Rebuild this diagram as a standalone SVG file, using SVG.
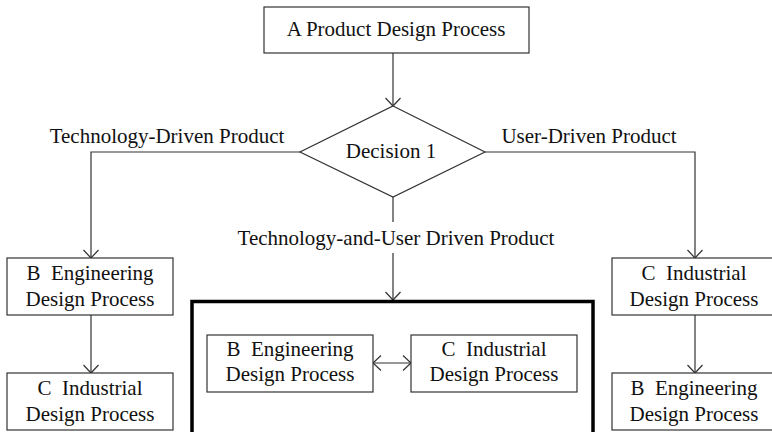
<svg xmlns="http://www.w3.org/2000/svg" width="772" height="432" viewBox="0 0 772 432">
<style>
text{font-family:"Liberation Serif","Times New Roman",serif;font-size:21px;fill:#111;text-anchor:middle}
.box{fill:#fff;stroke:#333;stroke-width:1.2}
.line{fill:none;stroke:#333;stroke-width:1.2}
</style>
<defs>
<marker id="arr" viewBox="-10 -10 20 20" markerWidth="20" markerHeight="20" refX="0" refY="0" orient="auto-start-reverse" markerUnits="userSpaceOnUse">
<path d="M-8,-7.5 L0,0 L-8,7.5" fill="none" stroke="#333" stroke-width="1.2"/>
</marker>
</defs>
<rect width="772" height="432" fill="#fff"/>
<g id="connectors">
<path class="line" d="M393,53 V106" marker-end="url(#arr)"/>
<path class="line" d="M300,152 H91 V258" marker-end="url(#arr)"/>
<path class="line" d="M91,315 V373" marker-end="url(#arr)"/>
<path class="line" d="M485,152 H695 V258" marker-end="url(#arr)"/>
<path class="line" d="M695,315 V373" marker-end="url(#arr)"/>
<path class="line" d="M393,197 V222 M393,253 V300" marker-end="url(#arr)"/>
<path class="line" d="M373,363 H411" marker-start="url(#arr)" marker-end="url(#arr)"/>
<text x="167" y="143">Technology-Driven Product</text>
<text x="589" y="143">User-Driven Product</text>
<text x="396" y="245">Technology-and-User Driven Product</text>
</g>
<g id="nodeA">
<rect class="box" x="264" y="7" width="265" height="46"/>
<text x="396" y="36">A Product Design Process</text>
</g>
<g id="decision1">
<polygon class="box" points="393,106 485,152 393,197 300,152"/>
<text x="391" y="158">Decision 1</text>
</g>
<g id="leftB">
<rect class="box" x="7" y="258" width="166" height="57"/>
<text x="90" y="280" xml:space="preserve">B  Engineering</text>
<text x="90" y="306">Design Process</text>
</g>
<g id="leftC">
<rect class="box" x="7" y="373" width="166" height="57"/>
<text x="90" y="395" xml:space="preserve">C  Industrial</text>
<text x="90" y="421">Design Process</text>
</g>
<g id="combined">
<rect x="192" y="301.5" width="401" height="150" fill="none" stroke="#000" stroke-width="3.5"/>
</g>
<g id="centerB">
<rect class="box" x="207" y="335" width="166" height="57"/>
<text x="290" y="356" xml:space="preserve">B  Engineering</text>
<text x="290" y="381">Design Process</text>
</g>
<g id="centerC">
<rect class="box" x="411" y="335" width="166" height="57"/>
<text x="494" y="356" xml:space="preserve">C  Industrial</text>
<text x="494" y="381">Design Process</text>
</g>
<g id="rightC">
<rect class="box" x="612" y="258" width="166" height="57"/>
<text x="694" y="280" xml:space="preserve">C  Industrial</text>
<text x="694" y="306">Design Process</text>
</g>
<g id="rightB">
<rect class="box" x="612" y="373" width="166" height="57"/>
<text x="694" y="395" xml:space="preserve">B  Engineering</text>
<text x="694" y="421">Design Process</text>
</g>
</svg>
